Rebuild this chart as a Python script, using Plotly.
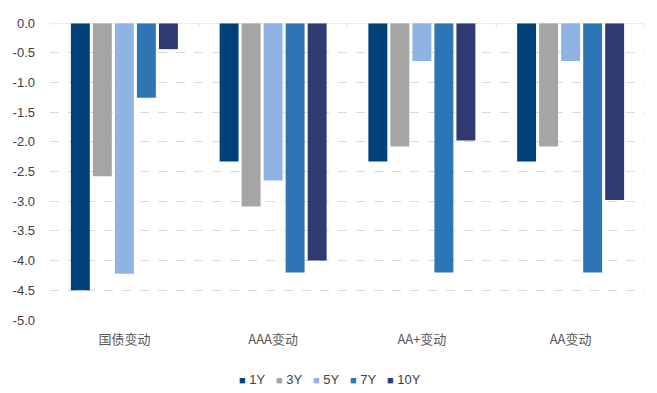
import plotly.graph_objects as go

categories = ["国债变动", "AAA变动", "AA+变动", "AA变动"]
series_names = ["1Y", "3Y", "5Y", "7Y", "10Y"]
y1 = [-4.50, -2.33, -2.33, -2.33]
y3 = [-2.58, -3.09, -2.08, -2.08]
y5 = [-4.22, -2.65, -0.64, -0.64]
y7 = [-1.26, -4.20, -4.20, -4.20]
y10 = [-0.44, -4.00, -1.98, -2.98]
colors = ["#00417A", "#A5A5A5", "#8FB4E3", "#2E75B6", "#2F3A72"]
ytick_vals = [0, -0.5, -1, -1.5, -2, -2.5, -3, -3.5, -4, -4.5, -5]
ytick_text = ["0.0", "-0.5", "-1.0", "-1.5", "-2.0", "-2.5", "-3.0", "-3.5", "-4.0", "-4.5", "-5.0"]

fig = go.Figure()
for name, vals, c in zip(series_names, [y1, y3, y5, y7, y10], colors):
    fig.add_trace(go.Bar(x=categories, y=vals, name=name, showlegend=False,
                         marker=dict(color=c, line=dict(width=0))))

# zero line with category-boundary tick marks
boundaries = [i - 0.5 for i in range(len(categories) + 1)]
shapes = [dict(type="line", xref="x", yref="y", x0=-0.5, x1=len(categories) - 0.5, y0=0, y1=0,
               line=dict(color="#D9D9D9", width=1), layer="above")]
for b in boundaries:
    shapes.append(dict(type="line", xref="x", yref="paper", x0=b, x1=b, y0=1, y1=0.987,
                       line=dict(color="#D9D9D9", width=1)))

# legend as text
legend_text = "&nbsp;&nbsp;&nbsp;".join(
    f"<span style='color:{c};font-size:11px'>■</span>&nbsp;{n}" for n, c in zip(series_names, colors))

fig.update_layout(
    width=657, height=393,
    margin=dict(l=50, r=12, t=23, b=73, autoexpand=False),
    paper_bgcolor="white", plot_bgcolor="white",
    barmode="group", bargap=0.26, bargroupgap=0.14,
    font=dict(family="Liberation Sans, Arial", size=13, color="#595959"),
    shapes=shapes,
    showlegend=False,
    annotations=[dict(text=legend_text, xref="paper", yref="paper", x=0.47, y=-0.202,
                      xanchor="center", yanchor="middle", showarrow=False,
                      font=dict(size=13, color="#404040"))],
    xaxis=dict(showgrid=False, showline=False, ticks="", range=[-0.5, 3.5], automargin=False,
               ticklabelstandoff=10,
               tickfont=dict(family="Noto Sans CJK SC", size=13, color="#595959")),
    yaxis=dict(range=[-5, 0], tickvals=ytick_vals, ticktext=ytick_text, showgrid=True,
               gridcolor="#D9D9D9", griddash="dash", gridwidth=1, zeroline=False,
               automargin=False, ticklabelstandoff=14,
               showline=False, ticks="", tickfont=dict(size=13, color="#404040")),
)

fig.write_html("out.html", config={"displayModeBar": False},
               post_script="document.body.style.margin='0';")
